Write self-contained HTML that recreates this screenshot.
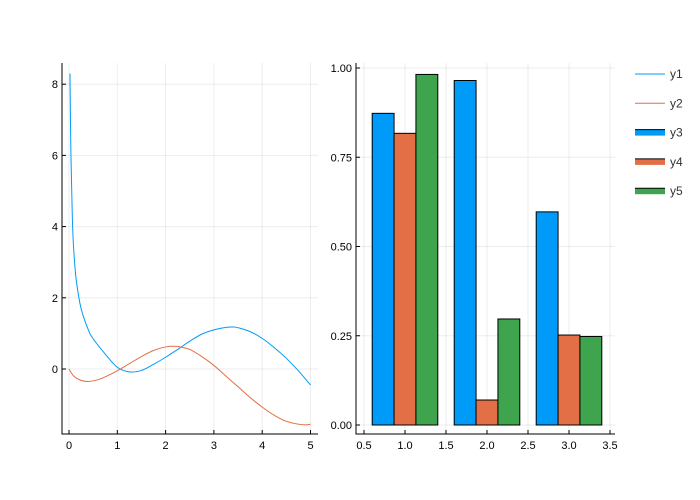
<!DOCTYPE html>
<html><head><meta charset="utf-8"><style>
body{margin:0;background:#fff}
svg{display:block;font-family:"Liberation Sans",sans-serif}
</style></head><body>
<svg id="c" width="700" height="500"></svg>
<script>
const y1x=[0.02,0.04,0.07,0.1,0.15,0.25,0.4,0.5,0.75,1.0,1.25,1.5,1.75,2.0,2.25,2.5,2.75,3.0,3.25,3.4,3.5,3.75,4.0,4.25,4.5,4.75,5.0];
const y1v=[8.3,6.0,4.2,3.3,2.5,1.7,1.1,0.85,0.42,0.05,-0.08,-0.04,0.13,0.33,0.55,0.78,0.98,1.1,1.17,1.18,1.16,1.05,0.86,0.6,0.3,-0.05,-0.45];
const y2x=[0,0.1,0.25,0.4,0.6,0.75,1.0,1.25,1.5,1.75,2.0,2.15,2.3,2.5,2.75,3.0,3.25,3.5,3.75,4.0,4.25,4.5,4.75,4.9,5.0];
const y2v=[0,-0.2,-0.32,-0.35,-0.3,-0.22,-0.05,0.15,0.35,0.52,0.62,0.64,0.62,0.55,0.35,0.1,-0.2,-0.5,-0.8,-1.07,-1.3,-1.47,-1.55,-1.57,-1.55];
const barCats=[1,2,3];
const y3=[0.873,0.965,0.597];
const y4=[0.817,0.07,0.252];
const y5=[0.982,0.297,0.248];
const lxTicks=[0,1,2,3,4,5];
const lyTicks=[0,2,4,6,8];
const rxTicks=["0.5","1.0","1.5","2.0","2.5","3.0","3.5"];
const ryTicks=["0.00","0.25","0.50","0.75","1.00"];

const NS="http://www.w3.org/2000/svg",svg=document.getElementById('c');
function mk(t,a,p){const e=document.createElementNS(NS,t);for(const k in a)e.setAttribute(k,a[k]);(p||svg).appendChild(e);return e;}
function smooth(pts){let d='M'+pts[0][0]+','+pts[0][1];
 for(let i=0;i<pts.length-1;i++){const p0=pts[Math.max(i-1,0)],p1=pts[i],p2=pts[i+1],p3=pts[Math.min(i+2,pts.length-1)];
 const c1=[p1[0]+(p2[0]-p0[0])/6,p1[1]+(p2[1]-p0[1])/6],c2=[p2[0]-(p3[0]-p1[0])/6,p2[1]-(p3[1]-p1[1])/6];
 d+=`C${c1[0]},${c1[1]} ${c2[0]},${c2[1]} ${p2[0]},${p2[1]}`;}return d;}
const BLUE="#009af9",ORA="#e26f46",GRN="#3ea44e";
const lx=v=>69+v*48.3, ly=v=>369-v*35.6;
const L={l:62,r:318,t:63,b:434};
lxTicks.forEach(v=>{let g=mk('line',{x1:lx(v),x2:lx(v),y1:L.t,y2:L.b,stroke:'#000','stroke-opacity':0.07});
let t=mk('text',{x:lx(v),y:L.b+15,'font-size':11,'text-anchor':'middle',fill:'#000'});t.textContent=v;
mk('line',{x1:lx(v),x2:lx(v),y1:L.b,y2:L.b-4,stroke:'#000'});});
lyTicks.forEach(v=>{let g=mk('line',{x1:L.l,x2:L.r,y1:ly(v),y2:ly(v),stroke:'#000','stroke-opacity':0.07});
let t=mk('text',{x:L.l-4,y:ly(v)+4,'font-size':11,'text-anchor':'end',fill:'#000'});t.textContent=v;
mk('line',{x1:L.l,x2:L.l+4,y1:ly(v),y2:ly(v),stroke:'#000'});});
let a=mk('path',{d:`M${L.l},${L.t}V${L.b}H${L.r}`,fill:'none',stroke:'#000'});
let p1=mk('path',{d:smooth(y1x.map((x,i)=>[lx(x),ly(y1v[i])])),fill:'none',stroke:BLUE,'stroke-width':1});

let p2=mk('path',{d:smooth(y2x.map((x,i)=>[lx(x),ly(y2v[i])])),fill:'none',stroke:ORA,'stroke-width':1});

const rx=v=>364+(v-0.5)*82, ry=v=>425-v*357;
const R={l:356,r:615,t:63,b:434};
rxTicks.forEach(s=>{const v=+s;let g=mk('line',{x1:rx(v),x2:rx(v),y1:R.t,y2:R.b,stroke:'#000','stroke-opacity':0.07});
let t=mk('text',{x:rx(v),y:R.b+15,'font-size':11,'text-anchor':'middle',fill:'#000'});t.textContent=s;
mk('line',{x1:rx(v),x2:rx(v),y1:R.b,y2:R.b-4,stroke:'#000'});});
ryTicks.forEach(s=>{const v=+s;let g=mk('line',{x1:R.l,x2:R.r,y1:ry(v),y2:ry(v),stroke:'#000','stroke-opacity':0.07});
let t=mk('text',{x:R.l-4,y:ry(v)+4,'font-size':11,'text-anchor':'end',fill:'#000'});t.textContent=s;
mk('line',{x1:R.l,x2:R.l+4,y1:ry(v),y2:ry(v),stroke:'#000'});});
let a2=mk('path',{d:`M${R.l},${R.t}V${R.b}H${R.r}`,fill:'none',stroke:'#000'});
const bw=0.8/3;
[[y3,BLUE,'y3'],[y4,ORA,'y4'],[y5,GRN,'y5']].forEach(([vals,col,n],si)=>{
 barCats.forEach((c,i)=>{const x0=c-0.4+si*bw;
 let r=mk('rect',{x:rx(x0),y:ry(vals[i]),width:rx(x0+bw)-rx(x0),height:ry(0)-ry(vals[i]),fill:col,stroke:'#000','stroke-width':1});
 });
});
const names=['y1','y2','y3','y4','y5'],cols=[BLUE,ORA,BLUE,ORA,GRN];
names.forEach((n,i)=>{const y=74+i*29.3;
 const g=mk('g',{});
 if(i<2)mk('line',{x1:635,x2:665,y1:y,y2:y,stroke:cols[i]},g);
 else{mk('rect',{x:635,y:y-3,width:30,height:6,fill:cols[i]},g);mk('line',{x1:635,x2:665,y1:y-3,y2:y-3,stroke:'#000'},g);}
 const t=mk('text',{x:670,y:y+4,'font-size':12,fill:'#333'},g);t.textContent=n;});
</script>
</body></html>
